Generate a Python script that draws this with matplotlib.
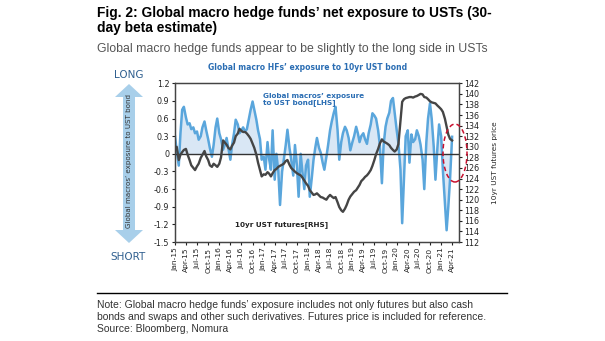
import matplotlib
matplotlib.use('Agg')
import matplotlib.pyplot as plt
import matplotlib.dates as mdates
from matplotlib.patches import Ellipse, Polygon
import pandas as pd

# semi-monthly readings, Jan-2015 .. Apr-2021
exposure = [
    0.30, 0.05, -0.20, 0.35, 0.75, 0.80, 0.62, 0.50, 0.52, 0.42, 0.45, 0.35,
    0.38, 0.24, 0.30, 0.45, 0.55, 0.40, 0.25, 0.10, -0.05, 0.15, 0.45, 0.60,
    0.35, 0.25, 0.07, 0.15, 0.27, 0.10, -0.10, 0.15, 0.35, 0.58, 0.50, 0.35,
    0.40, 0.45, 0.38, 0.42, 0.60, 0.75, 0.89, 0.75, 0.58, 0.40, 0.25, -0.10,
    -0.05, -0.27, 0.20, -0.10, -0.27, 0.40, -0.44, 0.00, -0.30, -0.87, -0.30, -0.10,
    0.15, 0.41, 0.10, -0.10, -0.37, 0.15, -0.20, -0.73, 0.00, -0.30, -0.60, -0.20,
    -0.10, -0.73, -0.40, -0.10, 0.10, 0.27, 0.10, 0.02, -0.15, -0.27, -0.05, 0.15,
    0.40, 0.55, 0.70, 0.80, 0.40, -0.10, 0.20, 0.35, 0.46, 0.40, 0.27, 0.06,
    0.20, 0.30, 0.46, 0.35, 0.20, 0.30, 0.35, 0.25, 0.17, 0.35, 0.50, 0.69,
    0.65, 0.60, 0.40, 0.15, -0.50, 0.15, 0.46, 0.60, 0.70, 0.90, 0.95, 0.70,
    0.40, 0.18, -0.27, -1.18, -0.40, 0.30, 0.40, -0.15, 0.33, 0.20, 0.25, 0.40,
    0.30, 0.16, -0.10, -0.60, 0.20, 0.60, 0.86, 0.60, 0.12, -0.44, 0.10, 0.50,
    0.30, -0.27, -0.84, -1.30, -0.90, -0.44, 0.29,
]
futures = [
    129.5, 130.0, 127.5, 128.5, 129.0, 129.4, 129.6, 128.5, 127.5, 126.5, 126.0, 125.6,
    126.3, 126.8, 127.9, 128.5, 129.2, 128.2, 127.5, 126.5, 126.2, 126.8, 126.5, 126.2,
    126.8, 128.0, 131.2, 130.8, 130.4, 129.8, 129.5, 130.2, 130.8, 132.0, 132.5, 133.4,
    133.0, 132.8, 132.8, 132.5, 132.0, 131.5, 130.6, 129.8, 128.5, 127.0, 125.6, 124.4,
    124.8, 124.7, 125.2, 124.9, 124.4, 125.0, 125.6, 125.8, 126.2, 126.4, 126.6, 126.8,
    127.3, 127.5, 126.6, 126.0, 125.6, 125.3, 125.0, 124.8, 124.6, 124.2, 123.6, 123.1,
    122.6, 121.8, 121.3, 120.9, 121.0, 121.2, 120.8, 120.5, 120.4, 120.2, 120.0, 120.5,
    120.9, 120.6, 120.3, 120.5, 119.5, 118.6, 118.0, 117.7, 118.3, 119.0, 120.0, 120.6,
    121.1, 121.5, 121.8, 122.3, 122.8, 123.5, 123.9, 124.3, 124.6, 125.0, 125.6, 126.4,
    127.5, 128.6, 129.6, 130.6, 131.4, 131.0, 130.8, 130.6, 130.3, 129.8, 129.4, 129.1,
    129.5, 130.5, 135.0, 138.5, 139.0, 139.2, 139.3, 139.4, 139.4, 139.3, 139.5, 139.6,
    139.8, 140.0, 139.9, 139.4, 139.3, 139.0, 138.6, 138.4, 138.3, 138.2, 137.8, 137.5,
    137.1, 136.6, 135.3, 133.8, 132.3, 131.5, 131.2,
]
dates = pd.date_range('2015-01-01', periods=len(exposure), freq='SMS')

left_ticks = [-1.5, -1.2, -0.9, -0.6, -0.3, 0, 0.3, 0.6, 0.9, 1.2]
left_labels = ['-1.5', '-1.2', '-0.9', '-0.6', '-0.3', '0', '0.3', '0.6', '0.9', '1.2']
right_ticks = list(range(112, 143, 2))

W, H = 605, 341
def fx(px):
    return px / W
def fy(py):
    return 1 - py / H

fig = plt.figure(figsize=(6.05, 3.41), dpi=100)
fig.patch.set_facecolor('white')

blue = '#5aa6dc'
grey = '#454545'

ax = fig.add_axes([fx(175), fy(242), (459 - 175) / W, (242 - 83.3) / H])
ax.fill_between(dates, exposure, 0, color='#d9e7f5', lw=0)
ax.plot(dates, exposure, color=blue, lw=1.8)
ax.axhline(0, color='#333333', lw=1.0, zorder=5)
ax.set_ylim(-1.5, 1.2)
ax.set_yticks(left_ticks)
ax.set_yticklabels(left_labels)
ax.set_xlim(pd.Timestamp('2015-01-01'), pd.Timestamp('2021-05-28'))
ax.xaxis.set_major_locator(mdates.MonthLocator(bymonth=[1, 4, 7, 10]))
ax.xaxis.set_major_formatter(mdates.DateFormatter('%b-%y'))
ax.tick_params(axis='x', labelrotation=90, labelsize=5.4, length=2, pad=2, colors='#222222')
ax.tick_params(axis='y', labelsize=5.8, length=2, pad=2, colors='#222222')

ax2 = ax.twinx()
ax2.plot(dates, futures, color=grey, lw=1.7)
ax2.set_ylim(112, 142)
ax2.set_yticks(right_ticks)
ax2.tick_params(axis='y', labelsize=5.8, length=2, pad=2, colors='#222222')
ax2.set_ylabel('10yr UST futures price', fontsize=5.3, color='#222222', labelpad=9)
for a in (ax, ax2):
    for s in a.spines.values():
        s.set_color('#444444')
        s.set_linewidth(0.9)

ax.text(0.31, 0.94, 'Global macros\u2019 exposure\nto UST bond[LHS]', transform=ax.transAxes,
        color='#2a6db3', fontsize=5.2, fontweight='bold', va='top', linespacing=1.1)
ax.text(0.21, 0.107, '10yr UST futures[RHS]', transform=ax.transAxes,
        color='#222222', fontsize=5.2, fontweight='bold', va='center')

# titles
fig.text(fx(97), fy(31.7), 'Fig. 2: Global macro hedge funds\u2019 net exposure to USTs (30-\nday beta estimate)',
         fontsize=9.9, fontweight='bold', family='Liberation Sans', va='baseline', linespacing=1.1)
fig.text(fx(97), fy(52), 'Global macro hedge funds appear to be slightly to the long side in USTs',
         fontsize=8.8, color='#555555', family='Liberation Sans', va='baseline')
fig.text(fx(308), fy(68), 'Global macro HFs\u2019 exposure to 10yr UST bond', fontsize=5.5,
         fontweight='bold', color='#2a6db3', ha='center', va='center')

# long / short arrow
arrow = [(123, 97), (115, 97), (129, 84), (143, 97), (135, 97),
         (135, 230), (143, 230), (129, 243), (115, 230), (123, 230)]
fig.patches.append(Polygon([(fx(x), fy(y)) for x, y in arrow], closed=True,
                           transform=fig.transFigure, color='#a8cfea', lw=0))
fig.text(fx(129), fy(161), 'Global macros\u2019 exposure to UST bond', rotation=90, fontsize=5.1,
         color='#333333', ha='center', va='center')
fig.text(fx(129), fy(75), 'LONG', fontsize=7.5, color='#2f5f8f', ha='center', va='center')
fig.text(fx(128), fy(257), 'SHORT', fontsize=7.5, color='#2f5f8f', ha='center', va='center')

# red dashed circle
fig.patches.append(Ellipse((fx(455), fy(153)), 24 / W, 58 / H, transform=fig.transFigure,
                           fill=False, ec='#c8102e', lw=1.1, ls=(0, (3, 2))))

# footer
fig.add_artist(plt.Line2D([fx(97), fx(507)], [fy(292.5), fy(292.5)], color='black', lw=1.0,
                          transform=fig.transFigure))
fig.text(fx(97), fy(331.7), 'Note: Global macro hedge funds\u2019 exposure includes not only futures but also cash\n'
         'bonds and swaps and other such derivatives. Futures price is included for reference.\n'
         'Source: Bloomberg, Nomura', fontsize=7.5, color='#333333', family='Liberation Sans',
         va='baseline', linespacing=1.22)

plt.savefig('out.png', dpi=100)
